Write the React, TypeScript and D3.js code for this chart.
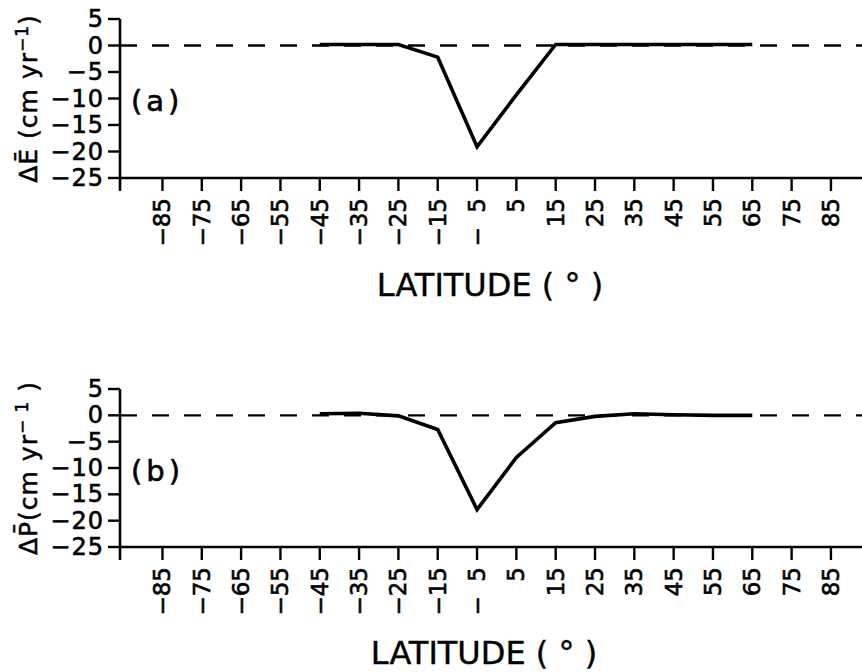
import React from "react";
import * as d3 from "d3";

const latitudes = [-45, -35, -25, -15, -5, 5, 15, 25, 35, 45, 55, 65];
const deltaE = [0.2, 0.2, 0.2, -2.2, -19.1, -9.3, 0.2, 0.2, 0.2, 0.2, 0.2, 0.2];
const deltaP = [0.3, 0.4, -0.1, -2.7, -17.9, -8.0, -1.4, -0.2, 0.3, 0.1, 0, 0];
const xTicks = [-85, -75, -65, -55, -45, -35, -25, -15, -5, 5, 15, 25, 35, 45, 55, 65, 75, 85];
const yTicks = [5, 0, -5, -10, -15, -20, -25];

const W = 862;
const H = 672;
const FONT = "DejaVu Sans, sans-serif";

const x = d3.scaleLinear().domain([-95.8, 92.9]).range([120, 862]);

function fmtX(v: number): string {
  if (v < 0) {
    const a = Math.abs(v);
    return a < 10 ? "\u2212\u2007" + a : "\u2212" + a;
  }
  return String(v);
}
function fmtY(v: number): string {
  return v < 0 ? "\u2212" + Math.abs(v) : String(v);
}

type PanelProps = {
  top: number;
  bottom: number;
  values: number[];
  label: string;
  yTitle: React.ReactNode;
  titleX: number;
  titleY: number;
};

function Panel({ top, bottom, values, label, yTitle, titleX, titleY }: PanelProps) {
  const y = d3.scaleLinear().domain([-25, 5]).range([bottom, top]);
  const line = d3
    .line<number>()
    .x((_, i) => x(latitudes[i]))
    .y((d) => y(d));
  const x0 = x.range()[0];
  const yMid = (top + bottom) / 2;
  return (
    <g>
      <line
        x1={x0}
        x2={W}
        y1={y(0)}
        y2={y(0)}
        stroke="#000"
        strokeWidth={2.4}
        strokeDasharray="17 15"
      />
      <line x1={x0} x2={x0} y1={y(5)} y2={bottom + 13} stroke="#000" strokeWidth={2.6} />
      {yTicks.map((t) => (
        <g key={t}>
          <line x1={x0 - 12} x2={x0} y1={y(t)} y2={y(t)} stroke="#000" strokeWidth={2.4} />
          <text
            x={x0 - 16}
            y={y(t)}
            textAnchor="end"
            dominantBaseline="central"
            fontFamily={FONT}
            fontSize={24}
            letterSpacing={1}
            stroke="#000"
            strokeWidth={0.6}
          >
            {fmtY(t)}
          </text>
        </g>
      ))}
      <line x1={x0} x2={W} y1={bottom} y2={bottom} stroke="#000" strokeWidth={2.6} />
      {xTicks.map((t) => (
        <g key={t}>
          <line x1={x(t)} x2={x(t)} y1={bottom} y2={bottom + 13} stroke="#000" strokeWidth={2.4} />
          <text
            transform={`translate(${x(t)},${bottom + 20}) rotate(-90)`}
            textAnchor="end"
            dominantBaseline="central"
            fontFamily={FONT}
            fontSize={23}
            stroke="#000"
            strokeWidth={0.6}
          >
            {fmtX(t)}
          </text>
        </g>
      ))}
      <path
        d={line(values) || ""}
        fill="none"
        stroke="#000"
        strokeWidth={3.6}
        strokeLinejoin="miter"
      />
      <text
        x={131}
        y={y(-10.5)}
        dominantBaseline="central"
        fontFamily={FONT}
        fontSize={29}
        letterSpacing={4}
        stroke="#000"
        strokeWidth={0.6}
      >
        {label}
      </text>
      <text
        transform={`translate(37,${yMid}) rotate(-90)`}
        textAnchor="middle"
        fontFamily={FONT}
        fontSize={25}
        letterSpacing={1}
        stroke="#000"
        strokeWidth={0.5}
      >
        {yTitle}
      </text>
      <text
        x={titleX}
        y={titleY}
        textAnchor="middle"
        fontFamily={FONT}
        fontSize={32}
        stroke="#000"
        strokeWidth={0.4}
      >
        LATITUDE ( ° )
      </text>
    </g>
  );
}

export default function App() {
  return (
    <svg
      width={W}
      height={H}
      viewBox={`0 0 ${W} ${H}`}
      style={{ position: "absolute", left: 0, top: 0, background: "#fff" }}
    >
      <rect width={W} height={H} fill="#fff" />
      <Panel
        top={19}
        bottom={178}
        values={deltaE}
        label="(a)"
        titleX={490}
        titleY={296}
        yTitle={
          <>
            {"\u0394\u0112 (cm yr"}
            <tspan dy={-9} fontSize={17}>{"\u22121"}</tspan>
            <tspan dy={9}>{")"}</tspan>
          </>
        }
      />
      <Panel
        top={389}
        bottom={547}
        values={deltaP}
        label="(b)"
        titleX={484}
        titleY={664}
        yTitle={
          <>
            {"\u0394P\u0304(cm yr"}
            <tspan dy={-9} fontSize={17}>{"\u2212 1"}</tspan>
            <tspan dy={9}>{" )"}</tspan>
          </>
        }
      />
    </svg>
  );
}
